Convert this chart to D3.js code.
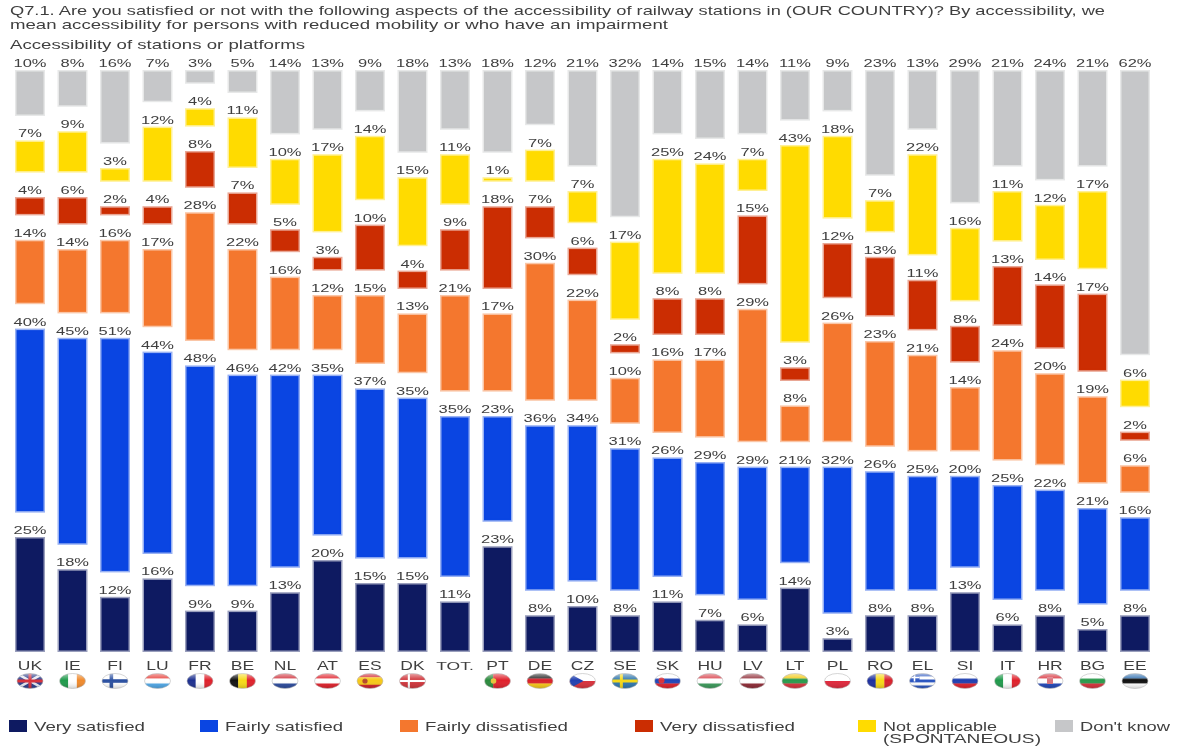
<!DOCTYPE html>
<html>
<head>
<meta charset="utf-8">
<script src="https://cdn.jsdelivr.net/npm/d3@7"></script>
<style>
  html, body { margin: 0; padding: 0; background: #fff; }
  svg { display: block; filter: blur(0.7px); }
  text { font-family: "Liberation Sans", Arial, sans-serif; fill: #3f3f3f; }
</style>
</head>
<body>
<svg id="chart" width="1178" height="746"></svg>
<script>
var countries = ["UK","IE","FI","LU","FR","BE","NL","AT","ES","DK","TOT.","PT","DE","CZ","SE","SK","HU","LV","LT","PL","RO","EL","SI","IT","HR","BG","EE"];

var verySatisfied    = [25,18,12,16, 9, 9,13,20,15,15,11,23, 8,10, 8,11, 7, 6,14, 3, 8, 8,13, 6, 8, 5, 8];
var fairlySatisfied  = [40,45,51,44,48,46,42,35,37,35,35,23,36,34,31,26,29,29,21,32,26,25,20,25,22,21,16];
var fairlyDissat     = [14,14,16,17,28,22,16,12,15,13,21,17,30,22,10,16,17,29, 8,26,23,21,14,24,20,19, 6];
var veryDissat       = [ 4, 6, 2, 4, 8, 7, 5, 3,10, 4, 9,18, 7, 6, 2, 8, 8,15, 3,12,13,11, 8,13,14,17, 2];
var notApplicable    = [ 7, 9, 3,12, 4,11,10,17,14,15,11, 1, 7, 7,17,25,24, 7,43,18, 7,22,16,11,12,17, 6];
var dontKnow         = [10, 8,16, 7, 3, 5,14,13, 9,18,13,18,12,21,32,14,15,14,11, 9,23,13,29,21,24,21,62];

var seriesKeys   = ["vs","fs","fd","vd","na","dk"];
var seriesValues = [verySatisfied, fairlySatisfied, fairlyDissat, veryDissat, notApplicable, dontKnow];
var seriesColors = ["#0e1a61","#0a45e2","#f4772e","#cb2d02","#ffdb00","#c6c7c9"];

var titleLines = [
  "Q7.1. Are you satisfied or not with the following aspects of the accessibility of railway stations in (OUR COUNTRY)? By accessibility, we",
  "mean accessibility for persons with reduced mobility or who have an impairment"
];
var subtitle = "Accessibility of stations or platforms";

var legendLabels = [["Very satisfied"],["Fairly satisfied"],["Fairly dissatisfied"],["Very dissatisfied"],["Not applicable","(SPONTANEOUS)"],["Don't know"]];
var legendX = [9, 200, 400, 635, 858, 1055];
var legendLen = [[111],[118],[143],[135],[114,158],[90]];

// stripes: [direction, colours]
var flagStripes = {
  UK: ["h", ["#2b3d8c"]], IE: ["v", ["#1f9a4b","#ffffff","#f08a2c"]], FI: ["h", ["#ffffff"]],
  LU: ["h", ["#e8403a","#ffffff","#4fa8e8"]], FR: ["v", ["#1c2f8f","#ffffff","#e0202a"]],
  BE: ["v", ["#111111","#f7d917","#e0202a"]], NL: ["h", ["#d0303a","#ffffff","#2b4a9c"]],
  AT: ["h", ["#e0202a","#ffffff","#e0202a"]], ES: ["h", ["#d0202a","#f7c917","#f7c917","#d0202a"]],
  DK: ["h", ["#d0343a"]], PT: ["v", ["#2a8a3c","#e0202a","#e0202a"]], DE: ["h", ["#222222","#d8202a","#f7c917"]],
  CZ: ["h", ["#ffffff","#d8303a"]], SE: ["h", ["#2f77ad"]], SK: ["h", ["#ffffff","#2046b8","#e0202a"]],
  HU: ["h", ["#d8404a","#ffffff","#3a9a5a"]], LV: ["h", ["#8e2a35","#ffffff","#8e2a35"]],
  LT: ["h", ["#f2c811","#2a9a4c","#d8303a"]], PL: ["h", ["#ffffff","#e0263a"]], RO: ["v", ["#1c2f9f","#f7d917","#d8202a"]],
  EL: ["h", ["#2a55c0","#ffffff","#2a55c0","#ffffff","#2a55c0"]], SI: ["h", ["#ffffff","#1f3fb0","#e0202a"]],
  IT: ["v", ["#1f9a4b","#ffffff","#e0202a"]], HR: ["h", ["#d8303a","#ffffff","#2046b8"]],
  BG: ["h", ["#ffffff","#2a9a4c","#d8303a"]], EE: ["h", ["#2f6fb0","#111111","#ffffff"]]
};
// cross overlays: [colour, vertical bar position 0-1, thickness 0-1]
var flagCrosses = {
  UK: ["#d8303a", 0.5, 0.2], FI: ["#2a4fa0", 0.36, 0.24], DK: ["#ffffff", 0.36, 0.14], SE: ["#f7d917", 0.36, 0.2]
};

var svg = d3.select("#chart");
var baseline = 652, gap = 24.4;

var x = d3.scaleBand().domain(countries).range([8.75, 1156.25]).paddingInner(0.294).paddingOuter(0.147);
var h = d3.scaleLinear().domain([0, 100]).range([0, 460]);

var rows = countries.map(function(c, i) {
  var row = { country: c };
  seriesKeys.forEach(function(k, s) { row[k] = seriesValues[s][i]; });
  return row;
});
var stacked = d3.stack().keys(seriesKeys)(rows);

// title block
svg.append("g").selectAll("text").data(titleLines).enter().append("text")
  .attr("x", 10)
  .attr("y", function(d, i) { return 15 + i * 14; })
  .attr("font-size", 12.6)
  .attr("textLength", function(d, i) { return i === 0 ? 1095 : 658; })
  .attr("lengthAdjust", "spacingAndGlyphs")
  .text(function(d) { return d; });

svg.append("text").attr("x", 10).attr("y", 49).attr("font-size", 12.6)
  .attr("textLength", 295).attr("lengthAdjust", "spacingAndGlyphs").text(subtitle);

// bars, each series pushed up by a fixed gap so the labels fit between
var layer = svg.append("g").selectAll("g").data(stacked).enter().append("g")
  .attr("fill", function(d, i) { return seriesColors[i]; });

layer.each(function(s, si) {
  var g = d3.select(this);
  g.selectAll("rect").data(s).enter().append("rect")
    .attr("x", function(d) { return x(d.data.country) + 1.5; })
    .attr("width", x.bandwidth() - 3)
    .attr("y", function(d) { return baseline - si * gap - h(d[1]) + 1.5; })
    .attr("height", function(d) { return Math.max(0.5, h(d[1] - d[0]) - 3); })
    .attr("stroke", seriesColors[si])
    .attr("stroke-opacity", 0.42)
    .attr("stroke-width", 3);

  g.selectAll("text").data(s).enter().append("text")
    .attr("transform", function(d) {
      return "translate(" + (x(d.data.country) + x.bandwidth() / 2) + "," + (baseline - si * gap - h(d[1]) - 3) + ") scale(1.5,1)";
    })
    .attr("text-anchor", "middle")
    .attr("font-size", 11)
    .text(function(d) { return (d[1] - d[0]) + "%"; });
});

// country labels
svg.append("g").selectAll("text").data(countries).enter().append("text")
  .attr("transform", function(d) {
    return "translate(" + (x(d) + x.bandwidth() / 2) + ",670) scale(" + (d === "TOT." ? 1.75 : 1.4) + ",1)";
  })
  .attr("text-anchor", "middle")
  .attr("font-size", function(d) { return d === "TOT." ? 10 : 12.5; })
  .text(function(d) { return d; });

// flags
var defs = svg.append("defs");
defs.append("clipPath").attr("id", "flag-clip").append("ellipse").attr("rx", 13).attr("ry", 7.5);
var gloss = defs.append("linearGradient").attr("id", "flag-gloss").attr("x1", 0).attr("x2", 0).attr("y1", 0).attr("y2", 1);
gloss.append("stop").attr("offset", "0%").attr("stop-color", "#fff").attr("stop-opacity", 0.55);
gloss.append("stop").attr("offset", "45%").attr("stop-color", "#fff").attr("stop-opacity", 0);
gloss.append("stop").attr("offset", "100%").attr("stop-color", "#000").attr("stop-opacity", 0.18);

var flagW = 26, flagH = 15;
var flag = svg.append("g").selectAll("g").data(countries.filter(function(c) { return flagStripes[c]; })).enter().append("g")
  .attr("transform", function(d) { return "translate(" + (x(d) + x.bandwidth() / 2) + ",681)"; });

flag.each(function(c) {
  var g = d3.select(this).append("g").attr("clip-path", "url(#flag-clip)");
  var dir = flagStripes[c][0], cols = flagStripes[c][1];
  cols.forEach(function(col, i) {
    if (dir === "h") {
      g.append("rect").attr("x", -flagW / 2).attr("width", flagW)
        .attr("y", -flagH / 2 + i * flagH / cols.length).attr("height", flagH / cols.length + 0.3).attr("fill", col);
    } else {
      g.append("rect").attr("y", -flagH / 2).attr("height", flagH)
        .attr("x", -flagW / 2 + i * flagW / cols.length).attr("width", flagW / cols.length + 0.3).attr("fill", col);
    }
  });
  if (c === "UK") {
    g.append("path").attr("d", "M-13,-7.5L13,7.5M13,-7.5L-13,7.5").attr("stroke", "#e8e8f0").attr("stroke-width", 2.5);
  }
  if (c === "CZ") {
    g.append("path").attr("d", "M-13,-7.5L1,0L-13,7.5Z").attr("fill", "#1f3fb0");
  }
  if (c === "EL") {
    g.append("rect").attr("x", -13).attr("y", -7.5).attr("width", 10).attr("height", 8).attr("fill", "#2a55c0");
    g.append("path").attr("d", "M-8,-7.5V0.5M-13,-3.5H-3").attr("stroke", "#fff").attr("stroke-width", 1.6);
  }
  if (c === "ES") {
    g.append("circle").attr("cx", -5).attr("cy", 0).attr("r", 2.6).attr("fill", "#b5482a");
  }
  if (c === "PT") {
    g.append("circle").attr("cx", -4).attr("cy", 0).attr("r", 2.8).attr("fill", "#e6c23a");
  }
  if (c === "SK") {
    g.append("circle").attr("cx", -6).attr("cy", -0.5).attr("r", 3).attr("fill", "#d8303a");
  }
  if (c === "HR") {
    g.append("rect").attr("x", -3).attr("y", -4).attr("width", 6).attr("height", 7).attr("fill", "#d8707a");
  }
  if (flagCrosses[c]) {
    var cross = flagCrosses[c];
    g.append("rect").attr("x", -13).attr("width", 26).attr("y", -flagH * cross[2] / 2).attr("height", flagH * cross[2]).attr("fill", cross[0]);
    g.append("rect").attr("x", -13 + 26 * cross[1] - flagH * cross[2] / 2).attr("width", flagH * cross[2]).attr("y", -7.5).attr("height", 15).attr("fill", cross[0]);
  }
  d3.select(this).append("ellipse").attr("rx", 13).attr("ry", 7.5).attr("fill", "url(#flag-gloss)")
    .attr("stroke", "#bbbbbb").attr("stroke-width", 0.6);
});

// legend
var legend = svg.append("g").selectAll("g").data(legendLabels).enter().append("g")
  .attr("transform", function(d, i) { return "translate(" + legendX[i] + ",720)"; });

legend.append("rect").attr("width", 18).attr("height", 12)
  .attr("fill", function(d, i) { return seriesColors[i]; });

legend.each(function(lines, i) {
  d3.select(this).selectAll("text").data(lines).enter().append("text")
    .attr("x", 25)
    .attr("y", function(d, j) { return 11 + j * 12; })
    .attr("font-size", 12.4)
    .attr("textLength", function(d, j) { return legendLen[i][j]; })
    .attr("lengthAdjust", "spacingAndGlyphs")
    .text(function(d) { return d; });
});
</script>
</body>
</html>
